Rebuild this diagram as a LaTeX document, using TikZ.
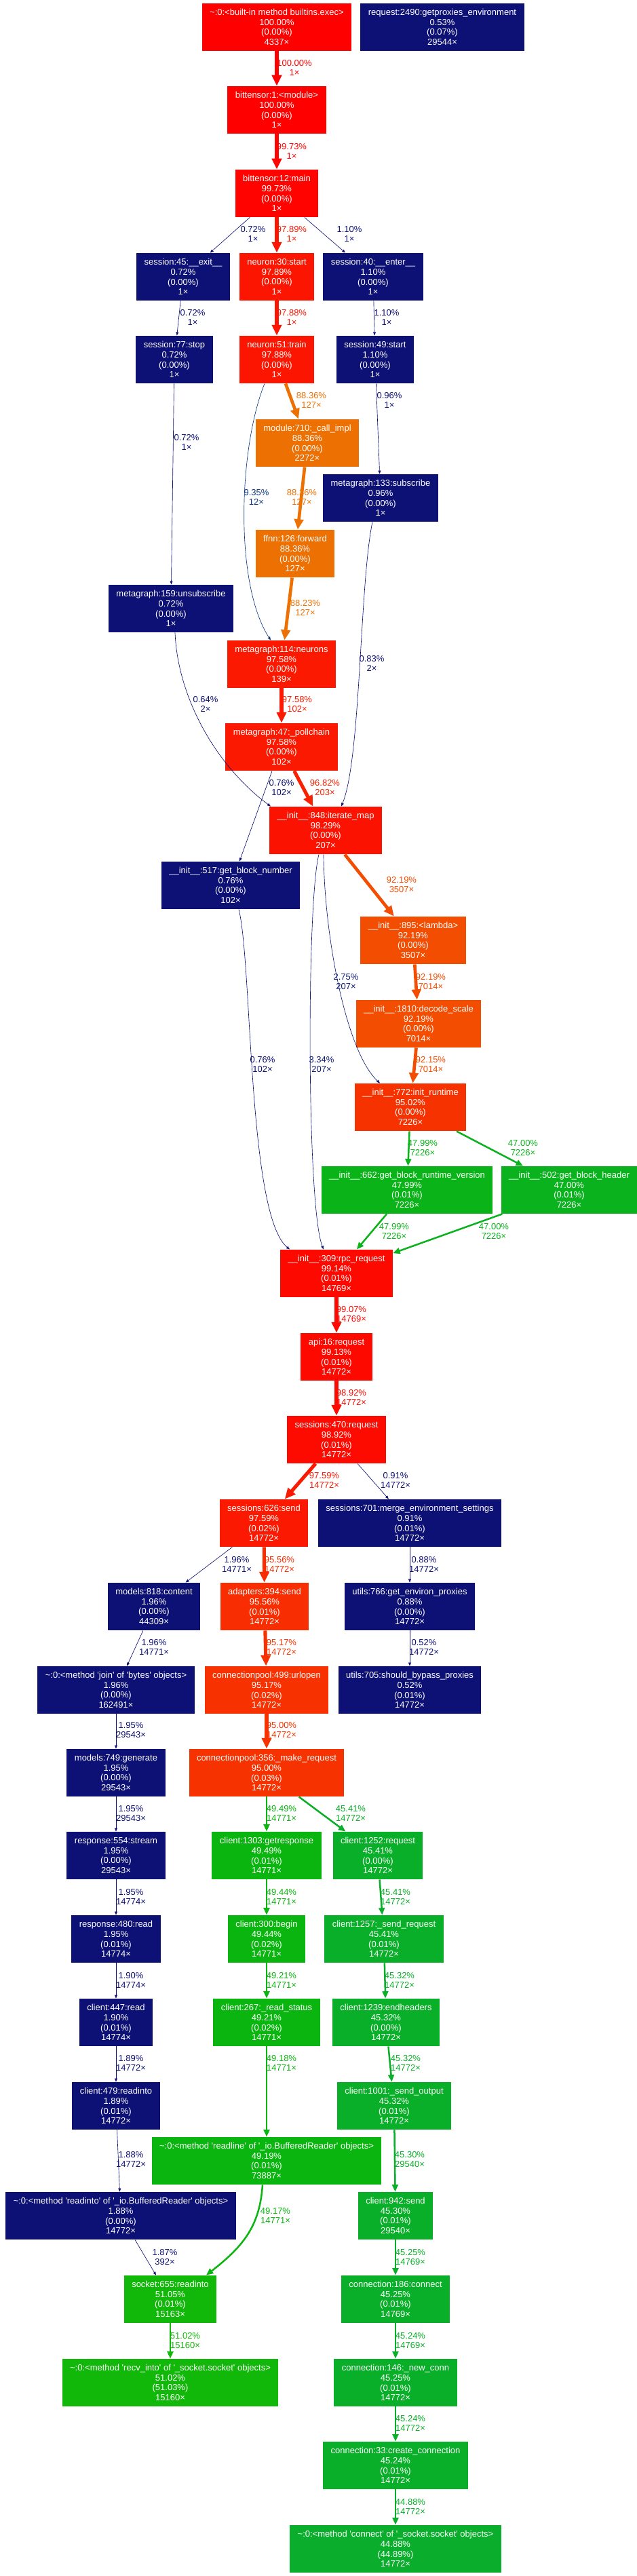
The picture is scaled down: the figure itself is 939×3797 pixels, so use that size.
\documentclass[tikz,border=0pt]{standalone}
\usepackage{fontspec}
\setmainfont{Liberation Sans}
\usetikzlibrary{arrows.meta,calc}
\newcommand{\nfont}{\fontsize{13pt}{14.6pt}\selectfont}
\newcommand{\sq}{\textquotesingle}
\definecolor{c100}{HTML}{FF0000}
\definecolor{c997}{HTML}{FF0300}
\definecolor{c991}{HTML}{FE0900}
\definecolor{c989}{HTML}{FD0B00}
\definecolor{c983}{HTML}{FC1200}
\definecolor{c979}{HTML}{FC1601}
\definecolor{c976}{HTML}{FB1901}
\definecolor{c968}{HTML}{FA2101}
\definecolor{c956}{HTML}{F82D01}
\definecolor{c952}{HTML}{F83101}
\definecolor{c950}{HTML}{F73201}
\definecolor{c922}{HTML}{F34D02}
\definecolor{c884}{HTML}{ED7003}
\definecolor{g51}{HTML}{11B709}
\definecolor{g49}{HTML}{0AB50F}
\definecolor{g48}{HTML}{0AB317}
\definecolor{g47}{HTML}{0AB21E}
\definecolor{g45}{HTML}{0AAF29}
\definecolor{g449}{HTML}{0AAE2C}
\definecolor{navy}{HTML}{0D1074}
\definecolor{blue9}{HTML}{0D377E}
\definecolor{blue3}{HTML}{0D1B77}
\tikzset{
  nbox/.style={rectangle, fill=#1, draw=none, text=white, font=\nfont, align=center,
    inner xsep=11.5pt, inner ysep=0pt, minimum height=70.5pt},
  elab/.style={text=#1, font=\nfont, align=center, inner sep=0pt},
  wR/.style={draw=#1, line width=5.1pt, -{Triangle[length=15.8pt,width=14pt]}},
  wO/.style={draw=#1, line width=4.7pt, -{Triangle[length=15.2pt,width=13.3pt]}},
  wG/.style={draw=#1, line width=2.5pt, -{Triangle[length=10.4pt,width=8.8pt]}},
  wN/.style={draw=#1, line width=0.65pt, -{Triangle[length=5pt,width=3.9pt]}},
}
\begin{document}
\begin{tikzpicture}[x=1pt,y=-1pt]
\fill[white] (0,0) rectangle (939,3797);
\useasboundingbox (0,0) rectangle (939,3797);

% ---------- nodes ----------
\node[nbox=c100] (exec) at (408,40) {\textasciitilde:0:<built-in method builtins.exec>\\100.00\%\\(0.00\%)\\4337×};
\node[nbox=navy] (req) at (652,40) {request:2490:getproxies\_environment\\0.53\%\\(0.07\%)\\29544×};
\node[nbox=c100] (module) at (408,162) {bittensor:1:<module>\\100.00\%\\(0.00\%)\\1×};
\node[nbox=c997] (main) at (408,285) {bittensor:12:main\\99.73\%\\(0.00\%)\\1×};
\node[nbox=navy] (s45) at (270,408) {session:45:\_\_exit\_\_\\0.72\%\\(0.00\%)\\1×};
\node[nbox=c979] (n30) at (408,408) {neuron:30:start\\97.89\%\\(0.00\%)\\1×};
\node[nbox=navy] (s40) at (550,408) {session:40:\_\_enter\_\_\\1.10\%\\(0.00\%)\\1×};
\node[nbox=navy] (s77) at (257,530) {session:77:stop\\0.72\%\\(0.00\%)\\1×};
\node[nbox=c979] (n51) at (408,530) {neuron:51:train\\97.88\%\\(0.00\%)\\1×};
\node[nbox=navy] (s49) at (553,530) {session:49:start\\1.10\%\\(0.00\%)\\1×};
\node[nbox=c884] (m710) at (453,653) {module:710:\_call\_impl\\88.36\%\\(0.00\%)\\2272×};
\node[nbox=navy] (mg133) at (561,734) {metagraph:133:subscribe\\0.96\%\\(0.00\%)\\1×};
\node[nbox=c884] (ffnn) at (435,816) {ffnn:126:forward\\88.36\%\\(0.00\%)\\127×};
\node[nbox=navy] (mg159) at (252,897) {metagraph:159:unsubscribe\\0.72\%\\(0.00\%)\\1×};
\node[nbox=c976] (mg114) at (415,979) {metagraph:114:neurons\\97.58\%\\(0.00\%)\\139×};
\node[nbox=c976] (poll) at (415,1101) {metagraph:47:\_pollchain\\97.58\%\\(0.00\%)\\102×};
\node[nbox=c983] (iter) at (480,1224) {\_\_init\_\_:848:iterate\_map\\98.29\%\\(0.00\%)\\207×};
\node[nbox=navy] (gbn) at (340,1305) {\_\_init\_\_:517:get\_block\_number\\0.76\%\\(0.00\%)\\102×};
\node[nbox=c922] (lambda) at (609,1386) {\_\_init\_\_:895:<lambda>\\92.19\%\\(0.00\%)\\3507×};
\node[nbox=c922] (decode) at (617,1509) {\_\_init\_\_:1810:decode\_scale\\92.19\%\\(0.00\%)\\7014×};
\node[nbox=c950] (initrt) at (605,1632) {\_\_init\_\_:772:init\_runtime\\95.02\%\\(0.00\%)\\7226×};
\node[nbox=g48] (rtv) at (600,1754) {\_\_init\_\_:662:get\_block\_runtime\_version\\47.99\%\\(0.01\%)\\7226×};
\node[nbox=g47] (bh) at (839,1754) {\_\_init\_\_:502:get\_block\_header\\47.00\%\\(0.01\%)\\7226×};
\node[nbox=c991] (rpc) at (496,1877) {\_\_init\_\_:309:rpc\_request\\99.14\%\\(0.01\%)\\14769×};
\node[nbox=c991] (api) at (496,2000) {api:16:request\\99.13\%\\(0.01\%)\\14772×};
\node[nbox=c989] (s470) at (496,2122) {sessions:470:request\\98.92\%\\(0.01\%)\\14772×};
\node[nbox=c976] (s626) at (389,2245) {sessions:626:send\\97.59\%\\(0.02\%)\\14772×};
\node[nbox=navy] (merge) at (604,2245) {sessions:701:merge\_environment\_settings\\0.91\%\\(0.01\%)\\14772×};
\node[nbox=navy] (content) at (227,2368) {models:818:content\\1.96\%\\(0.00\%)\\44309×};
\node[nbox=c956] (adapters) at (390,2368) {adapters:394:send\\95.56\%\\(0.01\%)\\14772×};
\node[nbox=navy] (environ) at (604,2368) {utils:766:get\_environ\_proxies\\0.88\%\\(0.00\%)\\14772×};
\node[nbox=navy] (join) at (171,2491) {\textasciitilde:0:<method \sq join\sq{} of \sq bytes\sq{} objects>\\1.96\%\\(0.00\%)\\162491×};
\node[nbox=c952] (urlopen) at (393,2491) {connectionpool:499:urlopen\\95.17\%\\(0.02\%)\\14772×};
\node[nbox=navy] (bypass) at (604,2491) {utils:705:should\_bypass\_proxies\\0.52\%\\(0.01\%)\\14772×};
\node[nbox=navy] (generate) at (171,2613) {models:749:generate\\1.95\%\\(0.00\%)\\29543×};
\node[nbox=c950] (make) at (393,2613) {connectionpool:356:\_make\_request\\95.00\%\\(0.03\%)\\14772×};
\node[nbox=navy] (stream) at (171,2735) {response:554:stream\\1.95\%\\(0.00\%)\\29543×};
\node[nbox=g49] (getresp) at (393,2735) {client:1303:getresponse\\49.49\%\\(0.01\%)\\14771×};
\node[nbox=g45] (c1252) at (557,2735) {client:1252:request\\45.41\%\\(0.00\%)\\14772×};
\node[nbox=navy] (read480) at (171,2858) {response:480:read\\1.95\%\\(0.01\%)\\14774×};
\node[nbox=g49] (begin) at (393,2858) {client:300:begin\\49.44\%\\(0.02\%)\\14771×};
\node[nbox=g45] (sendreq) at (566,2858) {client:1257:\_send\_request\\45.41\%\\(0.01\%)\\14772×};
\node[nbox=navy] (c447) at (171,2981) {client:447:read\\1.90\%\\(0.01\%)\\14774×};
\node[nbox=g49] (readstatus) at (393,2981) {client:267:\_read\_status\\49.21\%\\(0.02\%)\\14771×};
\node[nbox=g45] (endheaders) at (569,2981) {client:1239:endheaders\\45.32\%\\(0.00\%)\\14772×};
\node[nbox=navy] (c479) at (171,3104) {client:479:readinto\\1.89\%\\(0.01\%)\\14772×};
\node[nbox=g45] (sendoutput) at (581,3104) {client:1001:\_send\_output\\45.32\%\\(0.01\%)\\14772×};
\node[nbox=g49] (readline) at (393,3185) {\textasciitilde:0:<method \sq readline\sq{} of \sq\_io.BufferedReader\sq{} objects>\\49.19\%\\(0.01\%)\\73887×};
\node[nbox=navy] (ioread) at (178,3266) {\textasciitilde:0:<method \sq readinto\sq{} of \sq\_io.BufferedReader\sq{} objects>\\1.88\%\\(0.00\%)\\14772×};
\node[nbox=g45] (c942) at (583,3266) {client:942:send\\45.30\%\\(0.01\%)\\29540×};
\node[nbox=g51] (sock655) at (251,3389) {socket:655:readinto\\51.05\%\\(0.01\%)\\15163×};
\node[nbox=g45] (conn186) at (583,3389) {connection:186:connect\\45.25\%\\(0.01\%)\\14769×};
\node[nbox=g51] (recv) at (251,3512) {\textasciitilde:0:<method \sq recv\_into\sq{} of \sq\_socket.socket\sq{} objects>\\51.02\%\\(51.03\%)\\15160×};
\node[nbox=g45] (newconn) at (583,3512) {connection:146:\_new\_conn\\45.25\%\\(0.01\%)\\14772×};
\node[nbox=g45] (create) at (583,3634) {connection:33:create\_connection\\45.24\%\\(0.01\%)\\14772×};
\node[nbox=g449] (sockconn) at (583,3757) {\textasciitilde:0:<method \sq connect\sq{} of \sq\_socket.socket\sq{} objects>\\44.88\%\\(44.89\%)\\14772×};

% ---------- edges ----------
\draw[wR=c100] (exec) -- (module);
\draw[wR=c997] (module) -- (main);
\draw[wN=navy] (main) -- (s45);
\draw[wR=c979] (main) -- (n30);
\draw[wN=navy] (main) -- (s40);
\draw[wN=navy] (s45) -- (s77);
\draw[wR=c979] (n30) -- (n51);
\draw[wN=navy] (s40) -- (s49);
\draw[wO=c884] (n51) -- (m710);
\draw[wN=blue9] ($(n51.south)+(-18,0)$) .. controls (352,660) and (345,860) .. ($(mg114.north)+(-16,0)$);
\draw[wN=navy] (s49) -- (mg133);
\draw[wN=navy] (s77) -- (mg159);
\draw[wO=c884] (m710) -- (ffnn);
\draw[wO=c884] (ffnn) -- (mg114);
\draw[wN=navy] ($(mg133.south)+(-12,0)$) .. controls (530,860) and (532,1120) .. ($(iter.north)+(23,0)$);
\draw[wN=navy] ($(mg159.south)+(6,0)$) .. controls (262,1030) and (320,1130) .. ($(iter.north)+(-81,0)$);
\draw[wR=c976] (mg114) -- (poll);
\draw[wN=navy] ($(poll.south)+(-14,0)$) -- ($(gbn.north)+(13,0)$);
\draw[wR=c968] (poll) -- (iter);
\draw[wO=c922] (iter) -- (lambda);
\draw[wN=blue3] ($(iter.south)+(-3,0)$) .. controls (478,1380) and (510,1550) .. ($(initrt.north)+(-45,0)$);
\draw[wN=blue3] ($(iter.south)+(-10,0)$) .. controls (452,1330) and (452,1780) .. ($(rpc.north)+(-19,0)$);
\draw[wO=c922] (lambda) -- (decode);
\draw[wO=c922] (decode) -- (initrt);
\draw[wN=navy] ($(gbn.south)+(12,0)$) .. controls (372,1420) and (365,1790) .. ($(rpc.north)+(-69,0)$);
\draw[wG=g48] (initrt) -- (rtv);
\draw[wG=g47] (initrt) -- (bh);
\draw[wG=g48] (rtv) -- (rpc);
\draw[wG=g47] (bh) -- (rpc);
\draw[wR=c991] (rpc) -- (api);
\draw[wR=c989] (api) -- (s470);
\draw[wR=c976] (s470) -- (s626);
\draw[wN=navy] (s470) -- (merge);
\draw[wN=navy] (s626) -- (content);
\draw[wR=c956] (s626) -- (adapters);
\draw[wN=navy] (merge) -- (environ);
\draw[wN=navy] (content) -- (join);
\draw[wR=c952] (adapters) -- (urlopen);
\draw[wN=navy] (environ) -- (bypass);
\draw[wN=navy] (join) -- (generate);
\draw[wR=c950] (urlopen) -- (make);
\draw[wN=navy] (generate) -- (stream);
\draw[wG=g49] (make) -- (getresp);
\draw[wG=g45] (make) -- (c1252);
\draw[wN=navy] (stream) -- (read480);
\draw[wG=g49] (getresp) -- (begin);
\draw[wG=g45] (c1252) -- (sendreq);
\draw[wN=navy] (read480) -- (c447);
\draw[wG=g49] (begin) -- (readstatus);
\draw[wG=g45] (sendreq) -- (endheaders);
\draw[wN=navy] (c447) -- (c479);
\draw[wG=g49] (readstatus) -- (readline);
\draw[wG=g45] (endheaders) -- (sendoutput);
\draw[wN=navy] (c479) -- (ioread);
\draw[wG=g45] (sendoutput) -- (c942);
\draw[wG=g49] ($(readline.south)+(-6,0)$) .. controls (383,3280) and (360,3310) .. ($(sock655.north)+(53,0)$);
\draw[wN=navy] (ioread) -- (sock655);
\draw[wG=g45] (c942) -- (conn186);
\draw[wG=g51] (sock655) -- (recv);
\draw[wG=g45] (conn186) -- (newconn);
\draw[wG=g45] (newconn) -- (create);
\draw[wG=g449] (create) -- (sockconn);

% ---------- edge labels ----------
\node[elab=c100] (l1) at (434,100) {100.00\%\\1×};
\node[elab=c997] (l2) at (430,223) {99.73\%\\1×};
\node[elab=navy] (l3) at (373,345) {0.72\%\\1×};
\node[elab=c979] (l4) at (430,345) {97.89\%\\1×};
\node[elab=navy] (l5) at (515,345) {1.10\%\\1×};
\node[elab=navy] (l6) at (284,468) {0.72\%\\1×};
\node[elab=c979] (l7) at (430,468) {97.88\%\\1×};
\node[elab=navy] (l8) at (570,468) {1.10\%\\1×};
\node[elab=c884] (l9) at (459,590) {88.36\%\\127×};
\node[elab=blue9] (l10) at (378,733) {9.35\%\\12×};
\node[elab=navy] (l11) at (574,590) {0.96\%\\1×};
\node[elab=navy] (l12) at (275,652) {0.72\%\\1×};
\node[elab=c884] (l13) at (445,733) {88.36\%\\127×};
\node[elab=c884] (l14) at (450,896) {88.23\%\\127×};
\node[elab=navy] (l15) at (548,978) {0.83\%\\2×};
\node[elab=navy] (l16) at (303,1038) {0.64\%\\2×};
\node[elab=c976] (l17) at (438,1038) {97.58\%\\102×};
\node[elab=navy] (l18) at (415,1161) {0.76\%\\102×};
\node[elab=c968] (l19) at (479,1161) {96.82\%\\203×};
\node[elab=c922] (l20) at (592,1304) {92.19\%\\3507×};
\node[elab=blue3] (l21) at (510,1447) {2.75\%\\207×};
\node[elab=blue3] (l22) at (474,1569) {3.34\%\\207×};
\node[elab=c922] (l23) at (635,1447) {92.19\%\\7014×};
\node[elab=c922] (l24) at (635,1569) {92.15\%\\7014×};
\node[elab=navy] (l25) at (387,1569) {0.76\%\\102×};
\node[elab=g48] (l26) at (623,1692) {47.99\%\\7226×};
\node[elab=g47] (l27) at (771,1692) {47.00\%\\7226×};
\node[elab=g48] (l28) at (581,1815) {47.99\%\\7226×};
\node[elab=g47] (l29) at (728,1815) {47.00\%\\7226×};
\node[elab=c991] (l30) at (518,1937) {99.07\%\\14769×};
\node[elab=c989] (l31) at (518,2060) {98.92\%\\14772×};
\node[elab=c976] (l32) at (478,2182) {97.59\%\\14772×};
\node[elab=navy] (l33) at (583,2182) {0.91\%\\14772×};
\node[elab=navy] (l34) at (349,2306) {1.96\%\\14771×};
\node[elab=c956] (l35) at (412,2306) {95.56\%\\14772×};
\node[elab=navy] (l36) at (625,2306) {0.88\%\\14772×};
\node[elab=navy] (l37) at (227,2428) {1.96\%\\14771×};
\node[elab=c952] (l38) at (415,2428) {95.17\%\\14772×};
\node[elab=navy] (l39) at (625,2428) {0.52\%\\14772×};
\node[elab=navy] (l40) at (193,2550) {1.95\%\\29543×};
\node[elab=c950] (l41) at (415,2550) {95.00\%\\14772×};
\node[elab=navy] (l42) at (193,2673) {1.95\%\\29543×};
\node[elab=g49] (l43) at (415,2673) {49.49\%\\14771×};
\node[elab=g45] (l44) at (517,2673) {45.41\%\\14772×};
\node[elab=navy] (l45) at (193,2796) {1.95\%\\14774×};
\node[elab=g49] (l46) at (415,2796) {49.44\%\\14771×};
\node[elab=g45] (l47) at (583,2796) {45.41\%\\14772×};
\node[elab=navy] (l48) at (193,2919) {1.90\%\\14774×};
\node[elab=g49] (l49) at (415,2919) {49.21\%\\14771×};
\node[elab=g45] (l50) at (589,2919) {45.32\%\\14772×};
\node[elab=navy] (l51) at (193,3041) {1.89\%\\14772×};
\node[elab=g49] (l52) at (415,3041) {49.18\%\\14771×};
\node[elab=g45] (l53) at (598,3041) {45.32\%\\14772×};
\node[elab=navy] (l54) at (193,3183) {1.88\%\\14772×};
\node[elab=g45] (l55) at (604,3183) {45.30\%\\29540×};
\node[elab=g49] (l56) at (406,3266) {49.17\%\\14771×};
\node[elab=navy] (l57) at (243,3327) {1.87\%\\392×};
\node[elab=g45] (l58) at (605,3327) {45.25\%\\14769×};
\node[elab=g51] (l59) at (273,3450) {51.02\%\\15160×};
\node[elab=g45] (l60) at (605,3450) {45.24\%\\14769×};
\node[elab=g45] (l61) at (605,3572) {45.24\%\\14772×};
\node[elab=g449] (l62) at (605,3695) {44.88\%\\14772×};
\end{tikzpicture}
\end{document}
